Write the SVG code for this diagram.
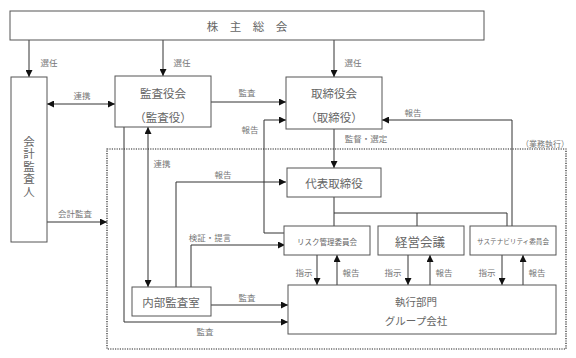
<svg xmlns="http://www.w3.org/2000/svg" width="576" height="358" viewBox="0 0 576 358">
<style>
.box{fill:#fff;stroke:#555;stroke-width:1}
.ln{fill:none;stroke:#333;stroke-width:1}
.ar{marker-end:url(#ah)}
.da{marker-start:url(#ah);marker-end:url(#ah)}
text{font-family:"Noto Sans CJK JP","Noto Sans CJK SC",sans-serif;fill:#666;text-anchor:middle;dominant-baseline:central}
.t{font-size:11.5px}
.l{font-size:8.5px;fill:#777}
</style>
<defs>
<marker id="ah" viewBox="0 0 10 10" refX="10" refY="5" markerWidth="8" markerHeight="7" orient="auto-start-reverse" markerUnits="userSpaceOnUse"><path d="M0,0 L10,5 L0,10 z" fill="#111"/></marker>
</defs>
<rect width="576" height="358" fill="#fff"/>
<g id="operation-area">
<rect x="107" y="149" width="459" height="200" fill="none" stroke="#222" stroke-width="1.2" stroke-dasharray="1.2 1.2"/>
<text class="l" x="545" y="143" style="font-size:8px">（業務執行）</text>
</g>
<g id="connectors">
<path class="ln ar" d="M29,40 V77"/>
<path class="ln ar" d="M163,40 V76"/>
<path class="ln ar" d="M334,40 V77"/>
<path class="ln da" d="M47,104 H115"/>
<path class="ln ar" d="M211,102 H286"/>
<path class="ln ar" d="M334,129 V168"/>
<path class="ln ar" d="M512,226 V120 H382"/>
<path class="ln ar" d="M285,233 H264 V120 H286"/>
<path class="ln da" d="M148,127 V287"/>
<path class="ln ar" d="M124,127 V322 H288"/>
<path class="ln ar" d="M176,287 V182 H286"/>
<path class="ln ar" d="M191,287 V245 H285"/>
<path class="ln ar" d="M211,305 H288"/>
<path class="ln ar" d="M47,222 H107"/>
<path class="ln" d="M334,197 V226 M334,213 H507 V226 M417,213 V226"/>
<path class="ln ar" d="M317,255 V285"/>
<path class="ln ar" d="M337,285 V255"/>
<path class="ln ar" d="M408,255 V285"/>
<path class="ln ar" d="M430,285 V255"/>
<path class="ln ar" d="M502,255 V285"/>
<path class="ln ar" d="M523,285 V255"/>
<text class="l" x="49" y="62">選任</text>
<text class="l" x="182" y="62">選任</text>
<text class="l" x="353" y="62">選任</text>
<text class="l" x="82" y="95">連携</text>
<text class="l" x="247" y="92">監査</text>
<text class="l" x="250" y="129">報告</text>
<text class="l" x="413" y="112">報告</text>
<text class="l" x="366" y="138">監督・選定</text>
<text class="l" x="162" y="163">連携</text>
<text class="l" x="223" y="174">報告</text>
<text class="l" x="75" y="213">会計監査</text>
<text class="l" x="210" y="237">検証・提言</text>
<text class="l" x="247" y="297">監査</text>
<text class="l" x="205" y="331">監査</text>
<text class="l" x="304" y="272">指示</text>
<text class="l" x="351" y="272">報告</text>
<text class="l" x="393" y="272">指示</text>
<text class="l" x="444" y="272">報告</text>
<text class="l" x="487" y="272">指示</text>
<text class="l" x="537" y="272">報告</text>
</g>
<g id="shareholders">
<rect class="box" x="10" y="11" width="474" height="29"/>
<text class="t" x="247" y="25.5">株　主　総　会</text>
</g>
<g id="auditor">
<rect class="box" x="11" y="77" width="36" height="165"/>
<text class="t" x="29" y="167" style="writing-mode:vertical-rl;letter-spacing:1px">会計監査人</text>
</g>
<g id="audit-board">
<rect class="box" x="115" y="76" width="96" height="51"/>
<text class="t" x="163" y="93">監査役会</text>
<text class="t" x="163" y="117">（監査役）</text>
</g>
<g id="board">
<rect class="box" x="286" y="77" width="96" height="52"/>
<text class="t" x="334" y="93">取締役会</text>
<text class="t" x="334" y="117">（取締役）</text>
</g>
<g id="president">
<rect class="box" x="287" y="168" width="94" height="29"/>
<text class="t" x="334" y="183">代表取締役</text>
</g>
<g id="risk">
<rect class="box" x="284" y="226" width="86" height="29"/>
<text x="327" y="241" style="font-size:7.5px">リスク管理委員会</text>
</g>
<g id="management">
<rect class="box" x="378" y="226" width="86" height="29"/>
<text x="420" y="241" style="font-size:12.5px">経営会議</text>
</g>
<g id="sustainability">
<rect class="box" x="470" y="226" width="86" height="29"/>
<text x="513" y="241" style="font-size:6.6px">サステナビリティ委員会</text>
</g>
<g id="internal-audit">
<rect class="box" x="132" y="287" width="79" height="29"/>
<text class="t" x="171" y="302">内部監査室</text>
</g>
<g id="execution">
<rect class="box" x="288" y="285" width="268" height="49"/>
<text x="416" y="301" style="font-size:10.5px">執行部門</text>
<text x="416" y="320" style="font-size:10.5px">グループ会社</text>
</g>
</svg>
